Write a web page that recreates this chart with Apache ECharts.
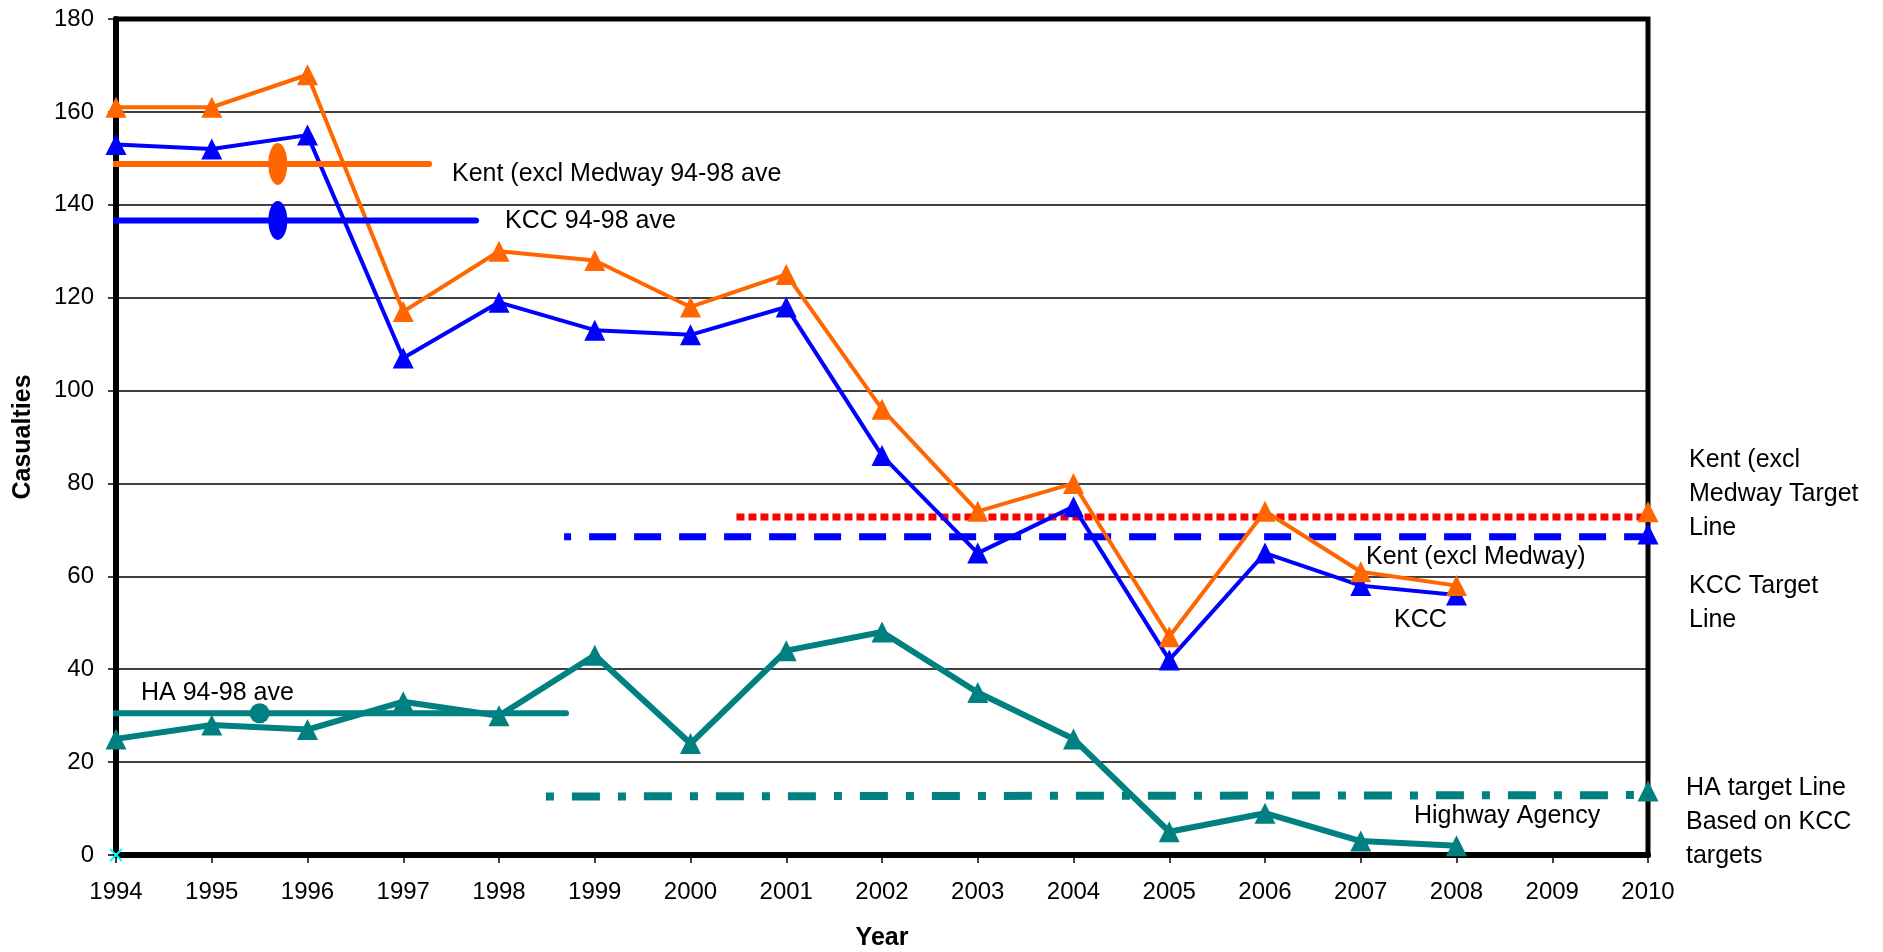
<!DOCTYPE html>
<html>
<head>
<meta charset="utf-8">
<script src="https://cdn.jsdelivr.net/npm/echarts@6/dist/echarts.min.js"></script>
<style>
html,body{margin:0;padding:0;background:#fff;}
#chart{width:1883px;height:952px;}
</style>
</head>
<body>
<div id="chart"></div>
<script>
// ---- data ----
var years = [1994,1995,1996,1997,1998,1999,2000,2001,2002,2003,2004,2005,2006,2007,2008];
var tickYears = [1994,1995,1996,1997,1998,1999,2000,2001,2002,2003,2004,2005,2006,2007,2008,2009,2010];
var yTicks = [0,20,40,60,80,100,120,140,160,180];
var kent = [161,161,168,117,130,128,118,125,96,74,80,47,74,61,58];
var kcc  = [153,152,155,107,119,113,112,118,86,65,75,42,65,58,56];
var ha   = [25,28,27,33,30,43,24,44,48,35,25,5,9,3,2];

var kentAveLine = [[1993.75,148.8],[1997.27,148.8]];
var kentAvePoint = [[1995.69,148.8]];
var kccAveLine  = [[1993.75,136.6],[1997.76,136.6]];
var kccAvePoint = [[1995.69,136.6]];
var haAveLine   = [[1993.75,30.5],[1998.7,30.5]];
var haAvePoint  = [[1995.5,30.5]];

var kentTargetLine = [[2000.48,72.8],[2010,72.8]];
var kentTargetPoint = [[2010,73.9]];
var kccTargetLine = [[1998.68,68.5],[2010,68.5]];
var kccTargetPoint = [[2010,69.1]];
var haTargetLine = [[1998.49,12.6],[2010,12.9]];
var haTargetPoint = [[2010,13.8]];
var originMark = [[1994,0]];

function pairs(xs, ys){ return xs.map(function(x,i){return [x, ys[i]];}); }

var FONT = 'Liberation Sans, Arial, sans-serif';
var ORANGE = '#FF6600', BLUE = '#0000FF', TEAL = '#008080', RED = '#FF0000';
var ELLIPSE = 'path://M50,0 A50,50 0 1,1 50,100 A50,50 0 1,1 50,0 Z';

function txt(t, x, y){
  return {type:'text', x:x, y:y, z:100,
    style:{text:t, fill:'#000', font:'25px ' + FONT, verticalAlign:'middle', align:'left'}};
}

var chart = echarts.init(document.getElementById('chart'));
chart.setOption({
  animation:false,
  backgroundColor:'#fff',
  grid:{left:116, right:235, top:19, bottom:97, containLabel:false, outerBoundsMode:'none',
    show:true, borderColor:'#000', borderWidth:5, backgroundColor:'transparent'},
  xAxis:{
    type:'value', min:tickYears[0], max:tickYears[tickYears.length-1], interval:1,
    name:'Year', nameLocation:'middle', nameGap:71,
    nameTextStyle:{fontFamily:FONT, fontSize:25, fontWeight:'bold', color:'#000'},
    axisLine:{show:true, onZero:false, lineStyle:{color:'#000', width:6}},
    axisTick:{show:true, length:8, lineStyle:{color:'#000', width:1.5}},
    axisLabel:{fontFamily:FONT, fontSize:24, color:'#000', margin:25,
      formatter:function(v){ return tickYears.indexOf(v) >= 0 ? String(v) : ''; }},
    splitLine:{show:false}
  },
  yAxis:{
    type:'value', min:yTicks[0], max:yTicks[yTicks.length-1], interval:20,
    name:'Casualties', nameLocation:'middle', nameGap:80, nameRotate:90,
    nameTextStyle:{fontFamily:FONT, fontSize:25, fontWeight:'bold', color:'#000'},
    axisLine:{show:true, lineStyle:{color:'#000', width:6}},
    axisTick:{show:true, length:8, lineStyle:{color:'#000', width:1.5}},
    axisLabel:{fontFamily:FONT, fontSize:24, color:'#000', margin:22},
    splitLine:{show:true, lineStyle:{color:'#000', width:1.5}}
  },
  series:[
    // target lines
    {type:'line', data:kentTargetLine, showSymbol:false, symbol:'none', clip:false, z:3,
      lineStyle:{color:RED, width:7, type:[8,4], cap:'butt'}},
    {type:'line', data:kccTargetLine, showSymbol:false, symbol:'none', clip:false, z:3,
      lineStyle:{color:BLUE, width:7, type:[27,18], cap:'butt', dashOffset:20}},
    {type:'line', data:haTargetLine, showSymbol:false, symbol:'none', clip:false, z:3,
      lineStyle:{color:TEAL, width:8, type:[8,18,28,18], cap:'butt'}},
    {type:'scatter', data:kentTargetPoint, symbol:'triangle', symbolSize:21, itemStyle:{color:ORANGE, opacity:1}, z:6},
    {type:'scatter', data:kccTargetPoint, symbol:'triangle', symbolSize:21, itemStyle:{color:BLUE, opacity:1}, z:6},
    {type:'scatter', data:haTargetPoint, symbol:'triangle', symbolSize:21, itemStyle:{color:TEAL, opacity:1}, z:6},
    // main series
    {type:'line', data:pairs(years, ha), symbol:'triangle', symbolSize:21, showAllSymbol:true, z:4,
      lineStyle:{color:TEAL, width:6}, itemStyle:{color:TEAL, opacity:1}},
    {type:'line', data:pairs(years, kcc), symbol:'triangle', symbolSize:21, showAllSymbol:true, z:4,
      lineStyle:{color:BLUE, width:4}, itemStyle:{color:BLUE, opacity:1}},
    {type:'line', data:pairs(years, kent), symbol:'triangle', symbolSize:21, showAllSymbol:true, z:4,
      lineStyle:{color:ORANGE, width:4}, itemStyle:{color:ORANGE, opacity:1}},
    // 94-98 averages
    {type:'line', data:kentAveLine, showSymbol:false, symbol:'none', clip:false, z:5,
      lineStyle:{color:ORANGE, width:6, cap:'round'}},
    {type:'scatter', data:kentAvePoint, symbol:ELLIPSE, symbolSize:[19,42], itemStyle:{color:ORANGE, opacity:1}, z:5},
    {type:'line', data:kccAveLine, showSymbol:false, symbol:'none', clip:false, z:5,
      lineStyle:{color:BLUE, width:6, cap:'round'}},
    {type:'scatter', data:kccAvePoint, symbol:ELLIPSE, symbolSize:[19,39], itemStyle:{color:BLUE, opacity:1}, z:5},
    {type:'line', data:haAveLine, showSymbol:false, symbol:'none', clip:false, z:5,
      lineStyle:{color:TEAL, width:6, cap:'round'}},
    {type:'scatter', data:haAvePoint, symbol:'circle', symbolSize:20, itemStyle:{color:TEAL, opacity:1}, z:5},
    // origin marker
    {type:'scatter', data:originMark, symbol:'path://M0,0L10,10M10,0L0,10', symbolSize:12, clip:false, z:7,
      itemStyle:{color:'transparent', borderColor:'#00FFFF', borderWidth:2, opacity:1}}
  ],
  graphic:[
    txt('Kent (excl Medway 94-98 ave', 452, 174),
    txt('KCC 94-98 ave', 505, 221),
    txt('HA 94-98 ave', 141, 693),
    txt('Kent (excl Medway)', 1366, 557),
    txt('KCC', 1394, 620),
    txt('Highway Agency', 1414, 816),
    txt('Kent (excl', 1689, 460),
    txt('Medway Target', 1689, 494),
    txt('Line', 1689, 528),
    txt('KCC Target', 1689, 586),
    txt('Line', 1689, 620),
    txt('HA target Line', 1686, 788),
    txt('Based on KCC', 1686, 822),
    txt('targets', 1686, 856)
  ]
});
</script>
</body>
</html>
